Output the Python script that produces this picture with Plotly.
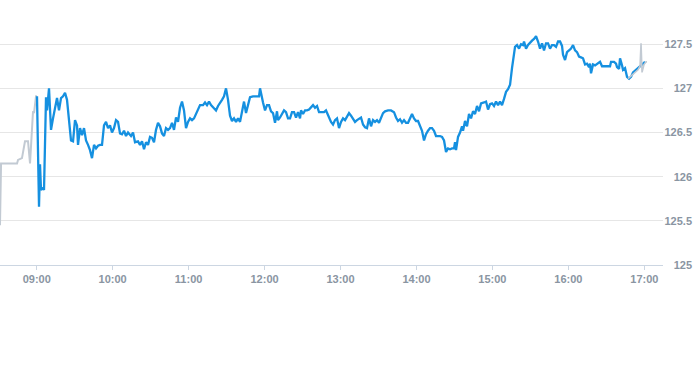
import plotly.graph_objects as go

DAY = "2024-03-15 "

# Pre-market (gray)
pre_times = ["08:31:00", "08:31:50", "08:44:27", "08:45:15", "08:48:22", "08:50:45",
             "08:53:08", "08:54:43", "08:57:05", "08:57:52", "08:59:27", "09:00:14"]
pre_prices = [125.45, 126.15, 126.15, 126.19, 126.21, 126.40,
              126.40, 126.15, 126.74, 126.72, 126.91, 126.91]

# Regular session (blue)
reg_times = [
    "09:00:14", "09:01:49", "09:02:36", "09:03:24", "09:04:59", "09:05:46", "09:07:21", "09:08:08",
    "09:09:43", "09:11:18", "09:12:53", "09:14:28", "09:16:02", "09:17:37", "09:19:12", "09:20:47",
    "09:22:22", "09:23:56", "09:25:31", "09:27:06", "09:28:41", "09:30:16", "09:31:50", "09:32:38",
    "09:34:13", "09:35:47", "09:37:22", "09:38:57", "09:40:32", "09:42:06", "09:43:41", "09:45:16",
    "09:46:51", "09:48:26", "09:50:00", "09:51:35", "09:53:10", "09:54:45", "09:56:20", "09:57:55",
    "09:59:29", "10:01:04", "10:02:39", "10:04:14", "10:05:49", "10:07:23", "10:08:58", "10:10:33",
    "10:12:08", "10:14:30", "10:16:05", "10:17:40", "10:20:02", "10:21:37", "10:23:11", "10:24:46",
    "10:26:21", "10:27:56", "10:29:31", "10:31:05", "10:32:40", "10:34:15", "10:35:50", "10:37:25",
    "10:38:59", "10:40:34", "10:42:09", "10:43:44", "10:45:19", "10:46:53", "10:48:28", "10:50:03",
    "10:51:38", "10:53:13", "10:54:47", "10:56:22", "10:57:57", "10:59:32", "11:01:07", "11:02:41",
    "11:04:16", "11:05:51", "11:07:26", "11:09:01", "11:11:23", "11:12:58", "11:14:32", "11:16:07",
    "11:17:42", "11:19:17", "11:21:39", "11:23:14", "11:24:49", "11:26:23", "11:27:58", "11:29:33",
    "11:31:08", "11:32:43", "11:34:17", "11:35:52", "11:37:27", "11:39:02", "11:40:37", "11:42:11",
    "11:43:46", "11:45:21", "11:46:56", "11:48:31", "11:50:53", "11:53:15", "11:55:37", "11:56:25",
    "11:57:59", "11:58:47", "12:00:22", "12:01:56", "12:03:31", "12:05:06", "12:06:41", "12:08:16",
    "12:09:50", "12:10:38", "12:12:13", "12:13:47", "12:15:22", "12:16:57", "12:18:32", "12:20:07",
    "12:21:41", "12:23:16", "12:24:51", "12:26:26", "12:28:01", "12:28:48", "12:30:23", "12:31:58",
    "12:33:32", "12:35:07", "12:36:42", "12:38:17", "12:39:52", "12:41:26", "12:43:01", "12:44:36",
    "12:46:58", "12:48:33", "12:50:55", "12:52:30", "12:54:05", "12:55:40", "12:57:14", "12:58:49",
    "13:00:24", "13:01:59", "13:03:34", "13:05:08", "13:06:43", "13:08:18", "13:09:53", "13:11:28",
    "13:13:02", "13:14:37", "13:16:12", "13:17:47", "13:19:22", "13:20:56", "13:22:31", "13:24:06",
    "13:25:41", "13:27:16", "13:28:50", "13:30:25", "13:32:00", "13:33:35", "13:35:10", "13:37:32",
    "13:39:54", "13:42:16", "13:43:51", "13:45:26", "13:47:01", "13:48:35", "13:50:10", "13:51:45",
    "13:53:20", "13:54:55", "13:56:29", "13:58:04", "13:59:39", "14:01:14", "14:02:49", "14:04:23",
    "14:05:58", "14:07:33", "14:09:08", "14:10:43", "14:12:17", "14:13:52", "14:15:27", "14:17:02",
    "14:18:37", "14:20:11", "14:21:46", "14:23:21", "14:24:56", "14:26:31", "14:28:05", "14:29:40",
    "14:30:28", "14:31:15", "14:32:50", "14:34:25", "14:35:59", "14:36:47", "14:38:22", "14:39:56",
    "14:41:31", "14:43:06", "14:44:41", "14:46:16", "14:47:50", "14:49:25", "14:51:00", "14:53:22",
    "14:54:57", "14:56:32", "14:58:07", "14:59:41", "15:01:16", "15:02:51", "15:04:26", "15:06:01",
    "15:07:35", "15:09:10", "15:10:45", "15:12:20", "15:13:55", "15:15:29", "15:16:17", "15:17:52",
    "15:19:26", "15:21:01", "15:22:36", "15:24:11", "15:24:58", "15:26:33", "15:28:08", "15:29:43",
    "15:31:17", "15:32:52", "15:34:27", "15:36:02", "15:37:37", "15:39:11", "15:40:46", "15:42:21",
    "15:43:56", "15:45:31", "15:47:05", "15:48:40", "15:50:15", "15:51:50", "15:53:25", "15:54:59",
    "15:55:47", "15:57:22", "15:58:56", "16:00:31", "16:02:06", "16:03:41", "16:05:16", "16:06:50",
    "16:08:25", "16:10:00", "16:11:35", "16:13:10", "16:14:44", "16:16:19", "16:17:07", "16:17:54",
    "16:19:29", "16:21:04", "16:23:26", "16:25:01", "16:26:35", "16:28:58", "16:31:20", "16:32:55",
    "16:33:42", "16:36:04", "16:37:39", "16:38:26", "16:40:01", "16:40:49", "16:42:23", "16:43:11",
    "16:44:46", "16:46:20", "16:47:55", "16:49:30", "16:51:05", "16:53:27", "16:55:49", "16:57:24",
    "16:58:59", "17:00:34"]
reg_prices = [
    126.91, 125.66, 126.14, 125.85, 125.87, 125.85, 126.90, 126.75,
    127.00, 126.53, 126.66, 126.79, 126.89, 126.75, 126.89, 126.91,
    126.95, 126.87, 126.64, 126.41, 126.40, 126.64, 126.58, 126.36,
    126.55, 126.47, 126.55, 126.41, 126.36, 126.30, 126.21, 126.36,
    126.32, 126.35, 126.36, 126.36, 126.58, 126.62, 126.55, 126.58,
    126.50, 126.55, 126.64, 126.62, 126.49, 126.48, 126.52, 126.46,
    126.50, 126.46, 126.50, 126.39, 126.40, 126.36, 126.40, 126.31,
    126.39, 126.36, 126.45, 126.44, 126.39, 126.53, 126.61, 126.57,
    126.49, 126.46, 126.55, 126.53, 126.55, 126.61, 126.53, 126.67,
    126.62, 126.78, 126.85, 126.75, 126.55, 126.62, 126.66, 126.64,
    126.66, 126.71, 126.75, 126.81, 126.81, 126.84, 126.81, 126.85,
    126.81, 126.79, 126.75, 126.80, 126.83, 126.87, 126.91, 127.00,
    126.87, 126.69, 126.63, 126.66, 126.62, 126.66, 126.62, 126.73,
    126.85, 126.72, 126.82, 126.90, 126.91, 126.91, 126.91, 127.00,
    126.87, 126.84, 126.75, 126.81, 126.81, 126.74, 126.72, 126.61,
    126.74, 126.64, 126.67, 126.72, 126.75, 126.73, 126.66, 126.66,
    126.73, 126.73, 126.67, 126.73, 126.66, 126.75, 126.71, 126.75,
    126.75, 126.76, 126.79, 126.81, 126.78, 126.80, 126.73, 126.73,
    126.73, 126.75, 126.66, 126.62, 126.59, 126.64, 126.66, 126.55,
    126.62, 126.66, 126.64, 126.69, 126.72, 126.69, 126.66, 126.62,
    126.64, 126.66, 126.67, 126.59, 126.56, 126.55, 126.66, 126.57,
    126.64, 126.62, 126.64, 126.61, 126.66, 126.72, 126.74, 126.75,
    126.75, 126.73, 126.67, 126.63, 126.65, 126.61, 126.64, 126.61,
    126.61, 126.66, 126.71, 126.66, 126.63, 126.63, 126.57, 126.52,
    126.41, 126.48, 126.52, 126.55, 126.55, 126.52, 126.46, 126.46,
    126.46, 126.45, 126.41, 126.28, 126.32, 126.31, 126.32, 126.32,
    126.39, 126.30, 126.45, 126.50, 126.57, 126.52, 126.63, 126.57,
    126.71, 126.66, 126.74, 126.71, 126.80, 126.74, 126.83, 126.84,
    126.85, 126.76, 126.82, 126.83, 126.80, 126.85, 126.81, 126.85,
    126.81, 126.88, 126.96, 126.99, 127.04, 127.23, 127.30, 127.47,
    127.49, 127.45, 127.50, 127.49, 127.53, 127.45, 127.49, 127.52,
    127.54, 127.56, 127.59, 127.53, 127.45, 127.51, 127.43, 127.51,
    127.51, 127.45, 127.49, 127.49, 127.47, 127.53, 127.53, 127.48,
    127.38, 127.32, 127.41, 127.43, 127.45, 127.49, 127.43, 127.41,
    127.36, 127.35, 127.34, 127.27, 127.28, 127.24, 127.28, 127.17,
    127.27, 127.26, 127.28, 127.30, 127.25, 127.25, 127.25, 127.25,
    127.30, 127.30, 127.28, 127.24, 127.22, 127.34, 127.26, 127.21,
    127.23, 127.13, 127.11, 127.13, 127.18, 127.21, 127.24, 127.25,
    127.28, 127.30]

# After-hours (gray)
post_times = ["16:47:08", "16:50:17", "16:52:40", "16:55:02", "16:56:37", "16:57:24",
              "16:58:12", "16:59:46", "17:01:21", "17:02:08"]
post_prices = [127.11, 127.15, 127.18, 127.21, 127.25, 127.51,
               127.18, 127.27, 127.30, 127.30]

y_ticks = [125, 125.5, 126, 126.5, 127, 127.5]
y_labels = ["125", "125.5", "126", "126.5", "127", "127.5"]
x_range = ["08:31:00", "17:14:45"]

BLUE = "#1590e0"
GRAY = "#c2cad3"
LABEL = dict(family="Liberation Sans, Arial, sans-serif", size=11, color="#8a95a2")

def ts(lst):
    return [DAY + t for t in lst]

fig = go.Figure()
fig.add_trace(go.Scatter(x=ts(pre_times), y=pre_prices, mode="lines",
                         line=dict(color=GRAY, width=2), hoverinfo="skip"))
fig.add_trace(go.Scatter(x=ts(reg_times), y=reg_prices, mode="lines",
                         line=dict(color=BLUE, width=2.3)))
fig.add_trace(go.Scatter(x=ts(post_times), y=post_prices, mode="lines",
                         line=dict(color=GRAY, width=1.6), hoverinfo="skip"))
fig.add_trace(go.Scatter(x=ts(x_range), y=[None, None], yaxis="y2",
                         mode="lines", showlegend=False, hoverinfo="skip"))

fig.update_layout(
    width=693, height=365,
    margin=dict(l=0, r=0, t=0, b=100),
    paper_bgcolor="white", plot_bgcolor="white",
    showlegend=False,
    xaxis=dict(
        domain=[0, 0.9567],
        type="date",
        range=ts(x_range),
        tickformat="%H:%M",
        dtick=3600000,
        tick0=DAY + "09:00",
        showgrid=False,
        showline=True, linecolor="#ccd6e2", linewidth=1,
        ticks="outside", ticklen=4, tickcolor="#ccd6e2",
        tickfont=dict(LABEL, weight="bold"),
        zeroline=False,
        automargin=False,
    ),
    yaxis=dict(
        range=[125, 128],
        tickvals=y_ticks,
        showticklabels=False,
        showgrid=True, gridcolor="#e6e6e6", gridwidth=1,
        zeroline=False, showline=False,
        side="right",
        automargin=False,
    ),
    yaxis2=dict(
        overlaying="y",
        anchor="free",
        position=1.0,
        side="left",
        range=[125, 128],
        tickvals=y_ticks,
        ticktext=y_labels,
        tickfont=dict(LABEL, weight="bold"),
        showgrid=False, zeroline=False, showline=False,
        ticks="", ticklabelstandoff=1,
        automargin=False,
    ),
)

fig.write_html("out.html", config={"displayModeBar": False},
               post_script="document.body.style.margin='0';")
